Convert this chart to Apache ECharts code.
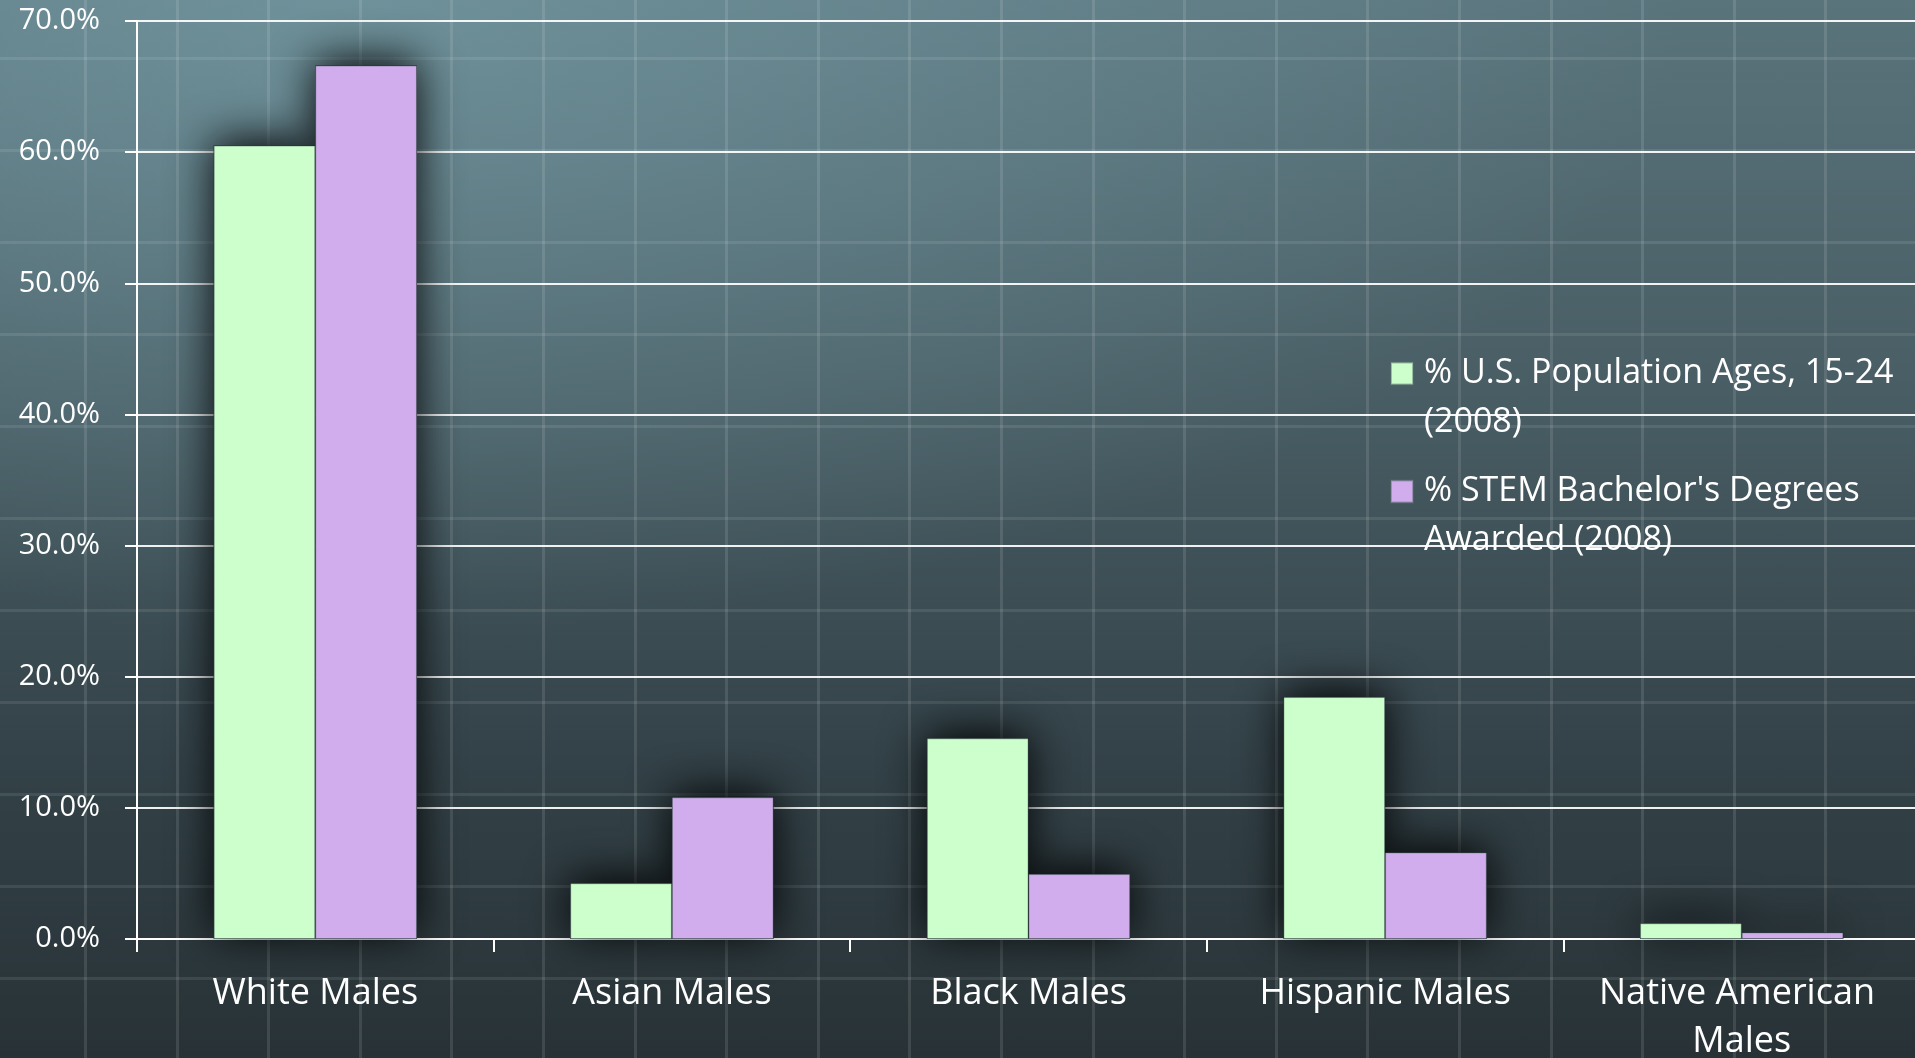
<!DOCTYPE html>
<html>
<head>
<meta charset="utf-8">
<script src="https://cdn.jsdelivr.net/npm/echarts@6/dist/echarts.min.js"></script>
<style>
  html, body { margin: 0; padding: 0; overflow: hidden; }
  body {
    width: 1915px; height: 1058px;
    background:
      repeating-linear-gradient(90deg, rgba(255,255,255,0) 0px, rgba(255,255,255,0) 84px, rgba(255,255,255,0.11) 84px, rgba(255,255,255,0.11) 87px, rgba(255,255,255,0) 87px, rgba(255,255,255,0) 91.6px),
      repeating-linear-gradient(180deg, rgba(255,255,255,0) 0px, rgba(255,255,255,0) 57px, rgba(255,255,255,0.09) 57px, rgba(255,255,255,0.09) 60px, rgba(255,255,255,0) 60px, rgba(255,255,255,0) 92px),
      radial-gradient(ellipse 70% 60% at 18% 0%, rgba(125,165,175,0.6), rgba(125,165,175,0) 100%),
      linear-gradient(180deg, #5a747c 0%, #475b62 40%, #334248 72%, #283236 100%);
  }
  #chart { width: 1915px; height: 1058px; }
</style>
</head>
<body>
<div id="chart"></div>
<script>
const categories = ['White Males', 'Asian Males', 'Black Males', 'Hispanic Males', 'Native American Males'];
const seriesNames = ['% U.S. Population Ages, 15-24 (2008)', "% STEM Bachelor's Degrees Awarded (2008)"];
const legendLabels = ['% U.S. Population Ages, 15-24\n(2008)', "% STEM Bachelor's Degrees\nAwarded (2008)"];
const populationShare = [60.5, 4.25, 15.3, 18.45, 1.2];
const stemDegreeShare = [66.6, 10.8, 4.95, 6.6, 0.5];
const yMin = 0, yMax = 70, yStep = 10;

const colors = ['#CCFFCC', '#D2ADEE'];
const FONT = '"Open Sans", "Noto Sans", sans-serif';

const chart = echarts.init(document.getElementById('chart'), null, { renderer: 'canvas' });

function mainSeries(i, data) {
  return {
    name: seriesNames[i], type: 'bar', data: data, xAxisIndex: 0, z: 3,
    barGap: '0%', barCategoryGap: '43%',
    itemStyle: { color: colors[i], borderColor: 'rgba(90,110,110,0.45)', borderWidth: 1 }
  };
}
function shadowSeries(i, data) {
  return {
    name: 'shadow' + i, type: 'bar', data: data, xAxisIndex: 1, z: 1, silent: true,
    barGap: '0%', barCategoryGap: '43%',
    itemStyle: { color: '#141b1e', shadowBlur: 44, shadowColor: 'rgba(0,0,0,0.95)', shadowOffsetY: -5 }
  };
}

chart.setOption({
  animation: false,
  backgroundColor: 'transparent',
  grid: { left: 137, top: 21, bottom: 119, right: -5, containLabel: false, outerBoundsMode: 'none' },
  legend: {
    data: seriesNames,
    orient: 'vertical', left: 1390, top: 300, padding: 0,
    itemWidth: 22, itemHeight: 22, itemGap: -29,
    icon: 'rect',
    formatter: name => '\n' + legendLabels[seriesNames.indexOf(name)],
    textStyle: { color: '#ffffff', fontFamily: FONT, fontSize: 34, lineHeight: 49, padding: [0, 0, 0, 6] }
  },
  xAxis: [{
    type: 'category', data: categories,
    axisLine: { show: true, lineStyle: { color: '#ffffff', width: 2 } },
    axisTick: { show: true, length: 13, lineStyle: { color: '#ffffff', width: 2 } },
    axisLabel: { color: '#ffffff', fontFamily: FONT, fontSize: 36, lineHeight: 48, margin: 31, width: 340, overflow: 'break', interval: 0 },
    splitLine: { show: false }
  }, {
    type: 'category', data: categories, show: false
  }],
  yAxis: {
    type: 'value', min: yMin, max: yMax, interval: yStep,
    axisLine: { show: true, lineStyle: { color: '#ffffff', width: 2 } },
    axisTick: { show: true, length: 12, lineStyle: { color: '#ffffff', width: 2 } },
    axisLabel: { color: '#ffffff', fontFamily: FONT, fontSize: 29, margin: 37, formatter: v => v.toFixed(1) + '%' },
    splitLine: { show: true, lineStyle: { color: 'rgba(255,255,255,0.92)', width: 2 } }
  },
  series: [
    shadowSeries(0, populationShare),
    shadowSeries(1, stemDegreeShare),
    mainSeries(0, populationShare),
    mainSeries(1, stemDegreeShare)
  ]
});
</script>
</body>
</html>
